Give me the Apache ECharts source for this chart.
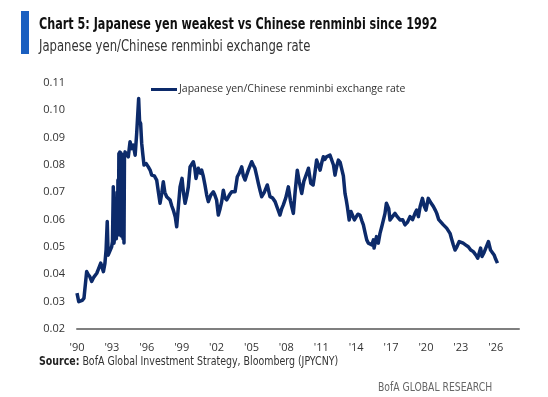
<!DOCTYPE html>
<html>
<head>
<meta charset="utf-8">
<script src="https://cdn.jsdelivr.net/npm/echarts@6/dist/echarts.min.js"></script>
<style>
  html, body { margin: 0; padding: 0; background: #fff; }
  #chart { width: 548px; height: 397px; }
</style>
</head>
<body>
<div id="chart"></div>
<script>
(function() {

    // dates (decimal years) and JPY/CNY rate
    const years = [
        1990.00, 1990.15, 1990.26, 1990.45, 1990.60, 1990.83, 1990.95, 1991.10, 1991.26, 1991.45,
        1991.70, 1991.85, 1992.04, 1992.27, 1992.40, 1992.50, 1992.60, 1992.68, 1992.78, 1992.98,
        1993.05, 1993.12, 1993.18, 1993.25, 1993.32, 1993.38, 1993.44, 1993.48, 1993.52, 1993.56,
        1993.60, 1993.64, 1993.68, 1993.72, 1993.76, 1993.80, 1993.84, 1993.88, 1993.92, 1993.96,
        1994.00, 1994.04, 1994.08, 1994.13, 1994.30, 1994.41, 1994.56, 1994.70,
        1994.84, 1995.00, 1995.13, 1995.30, 1995.38, 1995.47, 1995.56, 1995.65, 1995.76, 1995.95,
        1996.13, 1996.30, 1996.42, 1996.65, 1996.85, 1997.00, 1997.14, 1997.30, 1997.42, 1997.55,
        1997.71, 1997.85, 1998.00, 1998.15, 1998.28, 1998.45, 1998.57, 1998.70, 1998.86, 1999.03,
        1999.15, 1999.29, 1999.45, 1999.57, 1999.72, 2000.00, 2000.12, 2000.23, 2000.43, 2000.60,
        2000.72, 2000.85, 2001.00, 2001.15, 2001.29, 2001.50, 2001.72, 2001.85, 2002.00, 2002.15,
        2002.30, 2002.44, 2002.58, 2002.72, 2002.87, 2003.10, 2003.30, 2003.45, 2003.59, 2003.78,
        2003.95, 2004.16, 2004.30, 2004.45, 2004.60, 2004.73, 2005.02, 2005.15, 2005.30, 2005.45,
        2005.59, 2005.75, 2005.88, 2006.10, 2006.36, 2006.59, 2006.80, 2007.03, 2007.25, 2007.45,
        2007.60, 2007.74, 2007.95, 2008.17, 2008.35, 2008.46, 2008.60, 2008.75, 2008.94, 2009.10,
        2009.32, 2009.50, 2009.75, 2009.90, 2010.10, 2010.30, 2010.45, 2010.60, 2010.75, 2010.90,
        2011.05, 2011.18, 2011.30, 2011.45, 2011.60, 2011.75, 2011.90, 2012.05, 2012.18, 2012.30,
        2012.47, 2012.62, 2012.76, 2012.90, 2013.04, 2013.15, 2013.24, 2013.40, 2013.55, 2013.70,
        2013.85, 2014.00, 2014.15, 2014.33, 2014.50, 2014.62, 2014.78, 2014.91, 2015.05, 2015.19,
        2015.35, 2015.48, 2015.54, 2015.62, 2015.75, 2015.90, 2016.05, 2016.20, 2016.35, 2016.48,
        2016.60, 2016.68, 2016.80, 2016.91, 2017.10, 2017.34, 2017.55, 2017.77, 2018.00, 2018.20,
        2018.40, 2018.63, 2018.85, 2019.06, 2019.20, 2019.35, 2019.50, 2019.70, 2019.85, 2020.00,
        2020.20, 2020.30, 2020.45, 2020.64, 2020.80, 2020.93, 2021.10, 2021.20, 2021.50, 2021.78,
        2022.07, 2022.20, 2022.35, 2022.50, 2022.65, 2022.86, 2023.00, 2023.20, 2023.40, 2023.64,
        2023.85, 2024.07, 2024.30, 2024.45, 2024.55, 2024.70, 2024.82, 2025.00, 2025.15, 2025.37,
        2025.55, 2025.66, 2025.86, 2026.00, 2026.15
    ];
    const rates = [
        0.0331, 0.0300, 0.0295, 0.0305, 0.0313, 0.0410, 0.0400, 0.0392, 0.0374, 0.0390,
        0.0404, 0.0420, 0.0441, 0.0410, 0.0440, 0.0489, 0.0593, 0.0470, 0.0465, 0.0501,
        0.0520, 0.0720, 0.0514, 0.0540, 0.0560, 0.0530, 0.0700, 0.0560, 0.0745, 0.0545,
        0.0842, 0.0545, 0.0848, 0.0550, 0.0845, 0.0540, 0.0840, 0.0540, 0.0835, 0.0530,
        0.0830, 0.0515, 0.0825, 0.0848, 0.0850, 0.0830, 0.0885, 0.0860,
        0.0873, 0.0836, 0.0915, 0.1043, 0.0960, 0.0952, 0.0880, 0.0842, 0.0800, 0.0805,
        0.0793, 0.0780, 0.0763, 0.0760, 0.0745, 0.0700, 0.0660, 0.0700, 0.0739, 0.0700,
        0.0684, 0.0690, 0.0672, 0.0650, 0.0635, 0.0610, 0.0574, 0.0640, 0.0720, 0.0751,
        0.0700, 0.0660, 0.0690, 0.0720, 0.0793, 0.0812, 0.0790, 0.0751, 0.0788, 0.0770,
        0.0781, 0.0760, 0.0727, 0.0690, 0.0666, 0.0690, 0.0702, 0.0690, 0.0672, 0.0617,
        0.0640, 0.0666, 0.0708, 0.0680, 0.0672, 0.0690, 0.0702, 0.0695, 0.0702, 0.0757,
        0.0770, 0.0793, 0.0760, 0.0745, 0.0765, 0.0781, 0.0812, 0.0800, 0.0788, 0.0760,
        0.0733, 0.0705, 0.0684, 0.0700, 0.0727, 0.0684, 0.0680, 0.0666, 0.0640, 0.0617,
        0.0640, 0.0654, 0.0680, 0.0720, 0.0670, 0.0648, 0.0623, 0.0700, 0.0781, 0.0740,
        0.0696, 0.0740, 0.0769, 0.0788, 0.0733, 0.0727, 0.0770, 0.0818, 0.0800, 0.0781,
        0.0810, 0.0830, 0.0820, 0.0830, 0.0836, 0.0836, 0.0830, 0.0800, 0.0763, 0.0790,
        0.0818, 0.0810, 0.0806, 0.0760, 0.0696, 0.0672, 0.0648, 0.0599, 0.0630, 0.0629,
        0.0599, 0.0610, 0.0620, 0.0617, 0.0595, 0.0581, 0.0550, 0.0526, 0.0514, 0.0514,
        0.0508, 0.0526, 0.0496, 0.0500, 0.0538, 0.0514, 0.0550, 0.0574, 0.0600, 0.0623,
        0.0660, 0.0666, 0.0640, 0.0599, 0.0610, 0.0623, 0.0610, 0.0599, 0.0600, 0.0581,
        0.0590, 0.0611, 0.0600, 0.0623, 0.0635, 0.0611, 0.0648, 0.0678, 0.0650, 0.0635,
        0.0678, 0.0672, 0.0660, 0.0648, 0.0635, 0.0623, 0.0600, 0.0593, 0.0581, 0.0569,
        0.0550, 0.0530, 0.0508, 0.0489, 0.0500, 0.0520, 0.0515, 0.0514, 0.0508, 0.0501,
        0.0489, 0.0483, 0.0470, 0.0459, 0.0453, 0.0496, 0.0465, 0.0480, 0.0483, 0.0520,
        0.0489, 0.0483, 0.0471, 0.0455, 0.0441
    ];

    const startYear = 1990;   // x axis counts years from here
    const yTicks = [0.02, 0.03, 0.04, 0.05, 0.06, 0.07, 0.08, 0.09, 0.10, 0.11];

    const seriesName = 'Japanese yen/Chinese renminbi exchange rate';
    const narrow = "'DejaVu Sans Condensed', 'Open Sans', sans-serif";
    const body = "'Open Sans', 'Noto Sans', sans-serif";

    const chart = echarts.init(document.getElementById('chart'), null, { renderer: 'canvas' });

    const points = years.map((y, i) => [y - startYear, rates[i]]);

    // squeezed text, the original uses a condensed face
    function label(x, y, sx, style) {
        return { type: 'text', x: x, y: y, scaleX: sx, style: Object.assign({ x: 0, y: 0, verticalAlign: 'top' }, style) };
    }

    const option = {
        animation: false,
        backgroundColor: '#ffffff',
        grid: {
            left: 77,
            right: 29,
            top: 83,
            bottom: 68
        },
        legend: {
            data: [seriesName],
            left: 146,
            top: 79,
            itemWidth: 26,
            itemHeight: 3,
            itemGap: 2,
            icon: 'rect',
            textStyle: {
                fontFamily: body,
                fontSize: 10.5,
                color: '#333333',
                padding: [0, 0, 0, -3]
            }
        },
        xAxis: {
            type: 'value',
            min: 0,
            max: 38,
            interval: 3,
            axisLine: { show: true, lineStyle: { color: '#7f7f7f', width: 2 } },
            axisTick: { show: false },
            splitLine: { show: false },
            axisLabel: {
                margin: 13,
                fontFamily: body,
                fontSize: 11,
                color: '#333333',
                showMaxLabel: false,
                formatter: (v) => (v % 3 === 0 ? "'" + String(startYear + v).slice(2) : '')
            }
        },
        yAxis: {
            type: 'value',
            min: yTicks[0],
            max: yTicks[yTicks.length - 1],
            interval: 0.01,
            axisLine: { show: false },
            axisTick: { show: false },
            splitLine: { show: false },
            axisLabel: {
                margin: 12,
                fontFamily: body,
                fontSize: 11,
                color: '#333333',
                formatter: (v) => v.toFixed(2)
            }
        },
        series: [{
            name: seriesName,
            type: 'line',
            data: points,
            showSymbol: false,
            symbol: 'none',
            lineStyle: { color: '#0c2a6a', width: 3.5, join: 'round' },
            itemStyle: { color: '#0c2a6a' }
        }],
        graphic: [
            { type: 'rect', left: 21, top: 11, shape: { width: 8, height: 43 }, style: { fill: '#1a5fc0' } },
            label(39, 18, 0.83, {
                text: 'Chart 5: Japanese yen weakest vs Chinese renminbi since 1992',
                font: 'bold 15px ' + narrow, fill: '#111111' }),
            label(39, 40, 0.863, {
                text: 'Japanese yen/Chinese renminbi exchange rate',
                font: '15px ' + narrow, fill: '#333333' }),
            label(39, 356, 0.875, {
                rich: {
                    b: { font: 'bold 12px ' + narrow, fill: '#222222' },
                    n: { font: '12px ' + narrow, fill: '#333333' }
                },
                text: '{b|Source:} {n|BofA Global Investment Strategy, Bloomberg (JPYCNY)}' }),
            label(378, 382, 0.857, {
                text: 'BofA GLOBAL RESEARCH',
                font: '12px ' + narrow, fill: '#666666' })
        ]
    };

    chart.setOption(option);
})();
</script>
</body>
</html>
